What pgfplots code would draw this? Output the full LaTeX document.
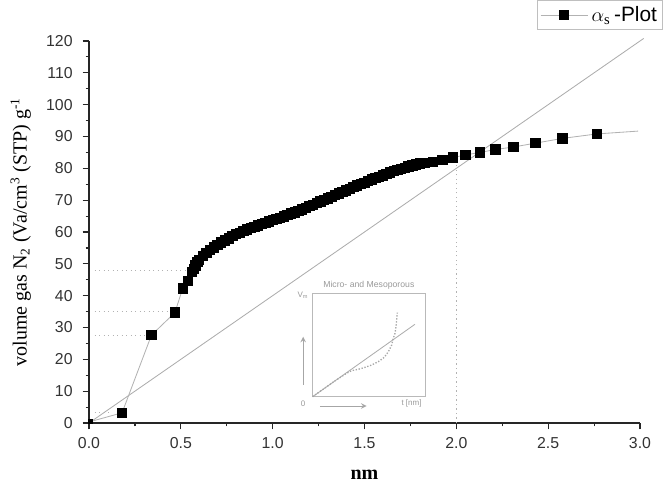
\documentclass[border=0pt]{standalone}
\usepackage{fontspec}
\setmainfont{Liberation Serif}
\setsansfont{Liberation Sans}
\usepackage{pgfplots}
\pgfplotsset{compat=1.18}
\begin{document}
\begin{tikzpicture}
\begin{axis}[
  at={(53.4pt,38.4pt)}, anchor=south west,
  scale only axis, width=330.6pt, height=229.2pt,
  xmin=0, xmax=3, ymin=0, ymax=120,
  axis x line*=bottom, axis y line*=left,
  axis line style={line width=0.8pt, black!85, -},
  xtick={0,0.5,...,3}, ytick={0,10,...,120}, minor tick num=1,
  tick align=outside, major tick length=3.8pt, minor tick length=2pt,
  tick style={line width=0.7pt, black!85},
  xticklabel style={yshift=-1.5pt, /pgf/number format/.cd, fixed, fixed zerofill, precision=1},
  /pgf/number format/assume math mode=true,
  tick label style={font=\sffamily\fontsize{9.5}{11}\selectfont, text=black!80},
  yticklabel style={xshift=-2.5pt},
  clip=false,
  xlabel={\textbf{nm}},
  xlabel style={at={(axis description cs:0.5,-0.136)}, anchor=center, font=\fontsize{12}{14}\selectfont},
  ylabel={volume gas N\textsubscript{2} (Va/cm\textsuperscript{3} (STP) g\textsuperscript{-1}},
  ylabel style={at={(axis description cs:-0.124,0.50)}, anchor=center, rotate=0, font=\fontsize{12}{14}\selectfont},
  legend style={at={(axis description cs:1.042,1.1073)}, anchor=north east, draw=gray!50,
    font=\sffamily\fontsize{12.5}{14}\selectfont, inner sep=1.5pt,
    legend image code/.code={\draw[mark repeat=2,mark phase=2,#1] plot coordinates {(0cm,0cm) (0.5cm,0cm) (1.0cm,0cm)};}},
  legend cell align=left,
]
% straight line
\addplot[gray!65, line width=0.5pt, forget plot] coordinates {(0,0) (3.02,120.8)};
% dotted guide lines
\addplot[gray!60, dotted, line width=0.7pt, forget plot] coordinates {(0.03,47.8) (0.56,47.8)};
\addplot[gray!60, dotted, line width=0.7pt, forget plot] coordinates {(0.03,35.0) (0.47,35.0)};
\addplot[gray!60, dotted, line width=0.7pt, forget plot] coordinates {(0.03,27.6) (0.34,27.6)};
\addplot[gray!60, dotted, line width=0.7pt, forget plot] coordinates {(0.03,3.3) (0.12,3.3)};
\addplot[gray!60, dotted, line width=0.7pt, forget plot] coordinates {(2.0,0) (2.0,81)};
% connecting segments
\addplot[gray!60, line width=0.5pt, forget plot] coordinates {(0.005,0.4) (0.18,3.2)};
\addplot[gray!60, line width=0.5pt, forget plot] coordinates {(2.764,90.8) (2.99,91.7)};
\addplot[black, only marks, mark=square*, mark size=1.2pt, forget plot] coordinates {(0.005,0.4)};
% data
\addplot[gray!60, line width=0.5pt, mark=square*, mark size=2.8pt, mark options={black, fill=black, solid}] coordinates {
(0.18,3.2) (0.34,27.6) (0.468,34.7) (0.51,42.3) (0.54,44.7) (0.559,47.5)
(0.57,48.5) (0.58,49.5) (0.59,50.5) (0.60,51.3) (0.62,52.5) (0.64,53.5)
(0.66,54.4) (0.68,55.2) (0.70,56.0) (0.72,56.7) (0.74,57.4) (0.76,58.0)
(0.78,58.7) (0.80,59.3) (0.82,59.8) (0.84,60.3) (0.86,60.8) (0.88,61.2)
(0.90,61.7) (0.92,62.1) (0.94,62.5) (0.96,62.9) (0.98,63.3) (1.00,63.7)
(1.02,64.1) (1.04,64.5) (1.06,64.9) (1.08,65.3) (1.10,65.8) (1.12,66.2)
(1.14,66.7) (1.16,67.1) (1.18,67.6) (1.20,68.1) (1.22,68.6) (1.24,69.1)
(1.26,69.6) (1.28,70.1) (1.30,70.6) (1.32,71.1) (1.34,71.6) (1.36,72.1)
(1.38,72.6) (1.40,73.1) (1.42,73.6) (1.44,74.1) (1.46,74.6) (1.48,75.1)
(1.50,75.5) (1.52,76.0) (1.54,76.5) (1.56,76.9) (1.58,77.4) (1.60,77.8)
(1.62,78.3) (1.64,78.7) (1.66,79.1) (1.68,79.5) (1.70,79.9) (1.72,80.2)
(1.74,80.6) (1.76,80.9) (1.78,81.2) (1.80,81.5) (1.83,81.8) (1.871,82.0)
(1.925,82.6) (1.983,83.4) (2.05,84.2) (2.128,85.0) (2.212,85.9) (2.31,86.7)
(2.43,87.9) (2.577,89.4) (2.764,90.8)
};
\addlegendentry{$\alpha_{\mathrm{s}}$\,-Plot}
\end{axis}
% inset
\begin{axis}[
  at={(187.6pt,54.2pt)}, anchor=south west,
  scale only axis, width=67.4pt, height=62.0pt,
  xmin=0, xmax=1, ymin=0, ymax=1,
  ticks=none, axis line style={gray!55, line width=0.5pt},
  clip=false,
]
\addplot[gray!65, line width=0.5pt] coordinates {(0,0) (0.91,0.70)};
\addplot[gray!70, densely dotted, line width=0.8pt] coordinates {
(0,0) (0.1,0.077) (0.2,0.154) (0.3,0.225) (0.347,0.252) (0.407,0.265) (0.466,0.284)
(0.525,0.306) (0.585,0.339) (0.638,0.381) (0.674,0.435) (0.703,0.5)
(0.718,0.565) (0.733,0.613) (0.742,0.677) (0.748,0.742) (0.754,0.813)};
\draw[gray!70, line width=0.5pt, -stealth] (axis description cs:-0.084,0.113) -- (axis description cs:-0.084,0.58);
\draw[gray!70, line width=0.5pt, -stealth] (axis description cs:0.065,-0.09) -- (axis description cs:0.48,-0.09);
\node[font=\sffamily\fontsize{5.2}{6}\selectfont, text=gray!80] at (axis description cs:0.5,1.08) {Micro- and Mesoporous};
\node[font=\sffamily\fontsize{4.8}{5}\selectfont, text=gray!80] at (axis description cs:-0.086,0.98) {V\textsubscript{m}};
\node[font=\sffamily\fontsize{4.8}{5}\selectfont, text=gray!80] at (axis description cs:-0.086,-0.07) {0};
\node[font=\sffamily\fontsize{4.8}{5}\selectfont, text=gray!80] at (axis description cs:0.88,-0.07) {t [nm]};
\end{axis}
\pgfresetboundingbox
\path[use as bounding box] (0,0) rectangle (399pt,292.2pt);
\end{tikzpicture}
\end{document}
